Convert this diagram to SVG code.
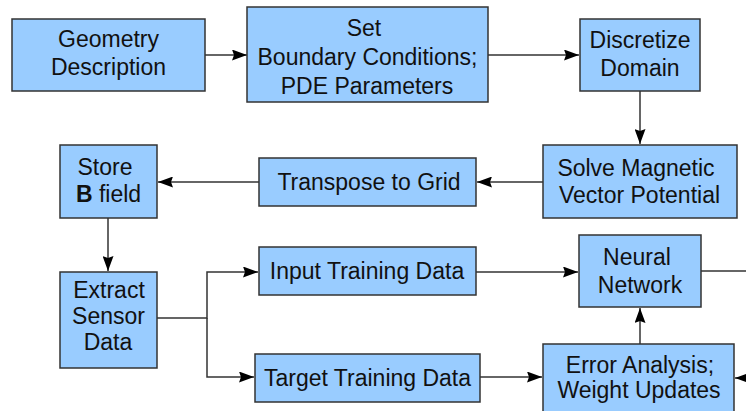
<svg xmlns="http://www.w3.org/2000/svg" width="746" height="411" viewBox="0 0 746 411">
<defs>
<style>
.box{fill:#99ccff;stroke:#333333;stroke-width:1.5}
.t{font-family:"Liberation Sans",Arial,sans-serif;font-size:23px;fill:#111111;text-anchor:middle}
.c{fill:none;stroke:#333333;stroke-width:1.5}
</style>
<marker id="ah" viewBox="0 0 15 11" refX="15" refY="5.5" markerWidth="15" markerHeight="11" markerUnits="userSpaceOnUse" orient="auto">
<path d="M0,0 L15,5.5 L0,11 L2,5.5 Z" fill="#000000"/>
</marker>
</defs>
<rect width="746" height="411" fill="#ffffff"/>
<g id="connectors">
<path class="c" d="M205,55 H247" marker-end="url(#ah)"/>
<path class="c" d="M488,55 H579" marker-end="url(#ah)"/>
<path class="c" d="M640,91 V144" marker-end="url(#ah)"/>
<path class="c" d="M543,182 H477" marker-end="url(#ah)"/>
<path class="c" d="M259,182 H158" marker-end="url(#ah)"/>
<path class="c" d="M108,218 V271" marker-end="url(#ah)"/>
<path class="c" d="M157,318 H207 V272 H258" marker-end="url(#ah)"/>
<path class="c" d="M207,318 V377 H254" marker-end="url(#ah)"/>
<path class="c" d="M476,272 H578" marker-end="url(#ah)"/>
<path class="c" d="M480,377 H542" marker-end="url(#ah)"/>
<path class="c" d="M640,344 V308" marker-end="url(#ah)"/>
<path class="c" d="M701,271 H746"/>
<path class="c" d="M748,378 H735" marker-end="url(#ah)"/>
</g>
<g id="geometry">
<rect class="box" x="12" y="19" width="193" height="72"/>
<text class="t" x="108.5" y="47">Geometry</text>
<text class="t" x="108.5" y="75">Description</text>
</g>
<g id="set-bc">
<rect class="box" x="247" y="7" width="241" height="95"/>
<text class="t" x="364" y="36">Set</text>
<text class="t" x="367.5" y="65">Boundary Conditions;</text>
<text class="t" x="367" y="94">PDE Parameters</text>
</g>
<g id="discretize">
<rect class="box" x="580" y="19" width="120" height="72"/>
<text class="t" x="640" y="48">Discretize</text>
<text class="t" x="640" y="76">Domain</text>
</g>
<g id="solve">
<rect class="box" x="543" y="145" width="194" height="73"/>
<text class="t" x="636" y="176">Solve Magnetic</text>
<text class="t" x="639.5" y="203">Vector Potential</text>
</g>
<g id="transpose">
<rect class="box" x="259" y="158" width="217" height="48"/>
<text class="t" x="369" y="190">Transpose to Grid</text>
</g>
<g id="store">
<rect class="box" x="60" y="145" width="97" height="73"/>
<text class="t" x="105" y="175">Store</text>
<text class="t" x="108.5" y="202"><tspan font-weight="bold">B</tspan> field</text>
</g>
<g id="extract">
<rect class="box" x="60" y="272" width="97" height="96"/>
<text class="t" x="109" y="298">Extract</text>
<text class="t" x="108.5" y="324">Sensor</text>
<text class="t" x="108" y="350">Data</text>
</g>
<g id="input">
<rect class="box" x="259" y="247" width="217" height="48"/>
<text class="t" x="367" y="279">Input Training Data</text>
</g>
<g id="neural">
<rect class="box" x="579" y="235" width="122" height="72"/>
<text class="t" x="637" y="265">Neural</text>
<text class="t" x="640" y="293">Network</text>
</g>
<g id="target">
<rect class="box" x="255" y="354" width="225" height="48"/>
<text class="t" x="367.5" y="386">Target Training Data</text>
</g>
<g id="error">
<rect class="box" x="543" y="344" width="191" height="75"/>
<text class="t" x="640" y="373">Error Analysis;</text>
<text class="t" x="639" y="398">Weight Updates</text>
</g>
</svg>
